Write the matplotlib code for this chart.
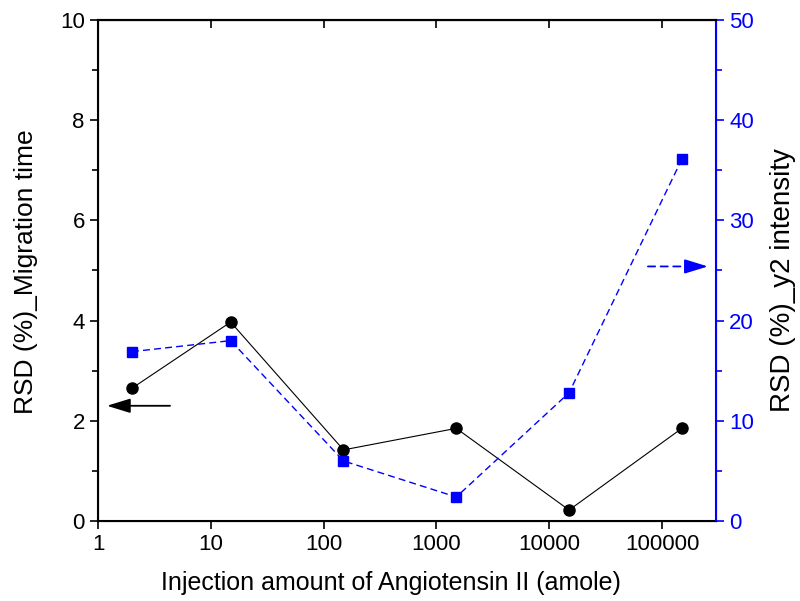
import matplotlib
matplotlib.use('Agg')
import matplotlib.pyplot as plt
from matplotlib.ticker import FixedLocator, NullLocator, MultipleLocator

plt.rcParams['font.family'] = ['Liberation Sans', 'DejaVu Sans']

# data
amount = [2, 15, 150, 1500, 15000, 150000]
rsd_migration = [2.65, 3.97, 1.42, 1.85, 0.22, 1.85]
rsd_y2 = [16.9, 18.0, 6.0, 2.4, 12.8, 36.1]
xticks = [1, 10, 100, 1000, 10000, 100000]
xticklabels = ['1', '10', '100', '1000', '10000', '100000']

fig = plt.figure(figsize=(8, 6.01), dpi=100)
ax = fig.add_axes([0.1225, 0.133, 0.7725, 0.834])
ax2 = ax.twinx()

ax.plot(amount, rsd_migration, color='black', lw=0.8, marker='o', ms=8, zorder=3)
ax2.plot(amount, rsd_y2, color='blue', lw=1.0, ls=(0, (5, 3)), marker='s', ms=7)

ax.set_xscale('log')
ax.set_xlim(1, 3.01e5)
ax.set_ylim(0, 10)
ax2.set_ylim(0, 50)

ax.xaxis.set_major_locator(FixedLocator(xticks))
ax.set_xticklabels(xticklabels)
ax.xaxis.set_minor_locator(NullLocator())
ax.yaxis.set_major_locator(MultipleLocator(2))
ax.yaxis.set_minor_locator(MultipleLocator(1))
ax2.yaxis.set_major_locator(MultipleLocator(10))
ax2.yaxis.set_minor_locator(MultipleLocator(5))

ax.tick_params(axis='both', which='major', direction='out', length=6, width=1.2, labelsize=16)
ax.tick_params(axis='y', which='minor', direction='out', length=4, width=1.2)
ax2.tick_params(axis='y', which='major', direction='out', length=6, width=1.2, labelsize=16,
                colors='blue')
ax2.tick_params(axis='y', which='minor', direction='out', length=4, width=1.2, colors='blue')

for s in ['left', 'bottom', 'top']:
    ax.spines[s].set_linewidth(1.5)
ax2.spines['right'].set_color('blue')
ax2.spines['right'].set_linewidth(1.5)
ax2.spines['top'].set_linewidth(1.5)

# top ticks point inward, majors only
sec = ax.secondary_xaxis('top')
sec.xaxis.set_major_locator(FixedLocator(xticks))
sec.xaxis.set_minor_locator(NullLocator())
sec.set_xticklabels([])
sec.tick_params(direction='in', length=6, width=1.2)

ax.set_xlabel('Injection amount of Angiotensin II (amole)', fontsize=18)
ax.xaxis.set_label_coords(0.474, -0.10)
ax.set_ylabel('RSD (%)_Migration time', fontsize=19)
ax.yaxis.set_label_coords(-0.097, 0.497)
ax2.set_ylabel('RSD (%)_y2 intensity', fontsize=20)
ax2.yaxis.set_label_coords(1.088, 0.48)

head = '-|>,head_length=1.3,head_width=0.4'
ax.annotate('', xy=(1.2, 2.3), xytext=(4.35, 2.3),
            arrowprops=dict(arrowstyle=head, color='black', lw=1.3,
                            mutation_scale=11, shrinkA=0, shrinkB=0))
# dashed shaft, solid head
ax2.annotate('', xy=(2.1e5, 25.4), xytext=(7.5e4, 25.4),
             arrowprops=dict(arrowstyle='-', color='blue', lw=1.3, ls=(0, (4, 3)),
                             shrinkA=0, shrinkB=0))
ax2.annotate('', xy=(2.55e5, 25.4), xytext=(2.0e5, 25.4),
             arrowprops=dict(arrowstyle=head, color='blue', lw=1.3,
                             mutation_scale=11, shrinkA=0, shrinkB=0))

fig.savefig('out.png', dpi=100)
